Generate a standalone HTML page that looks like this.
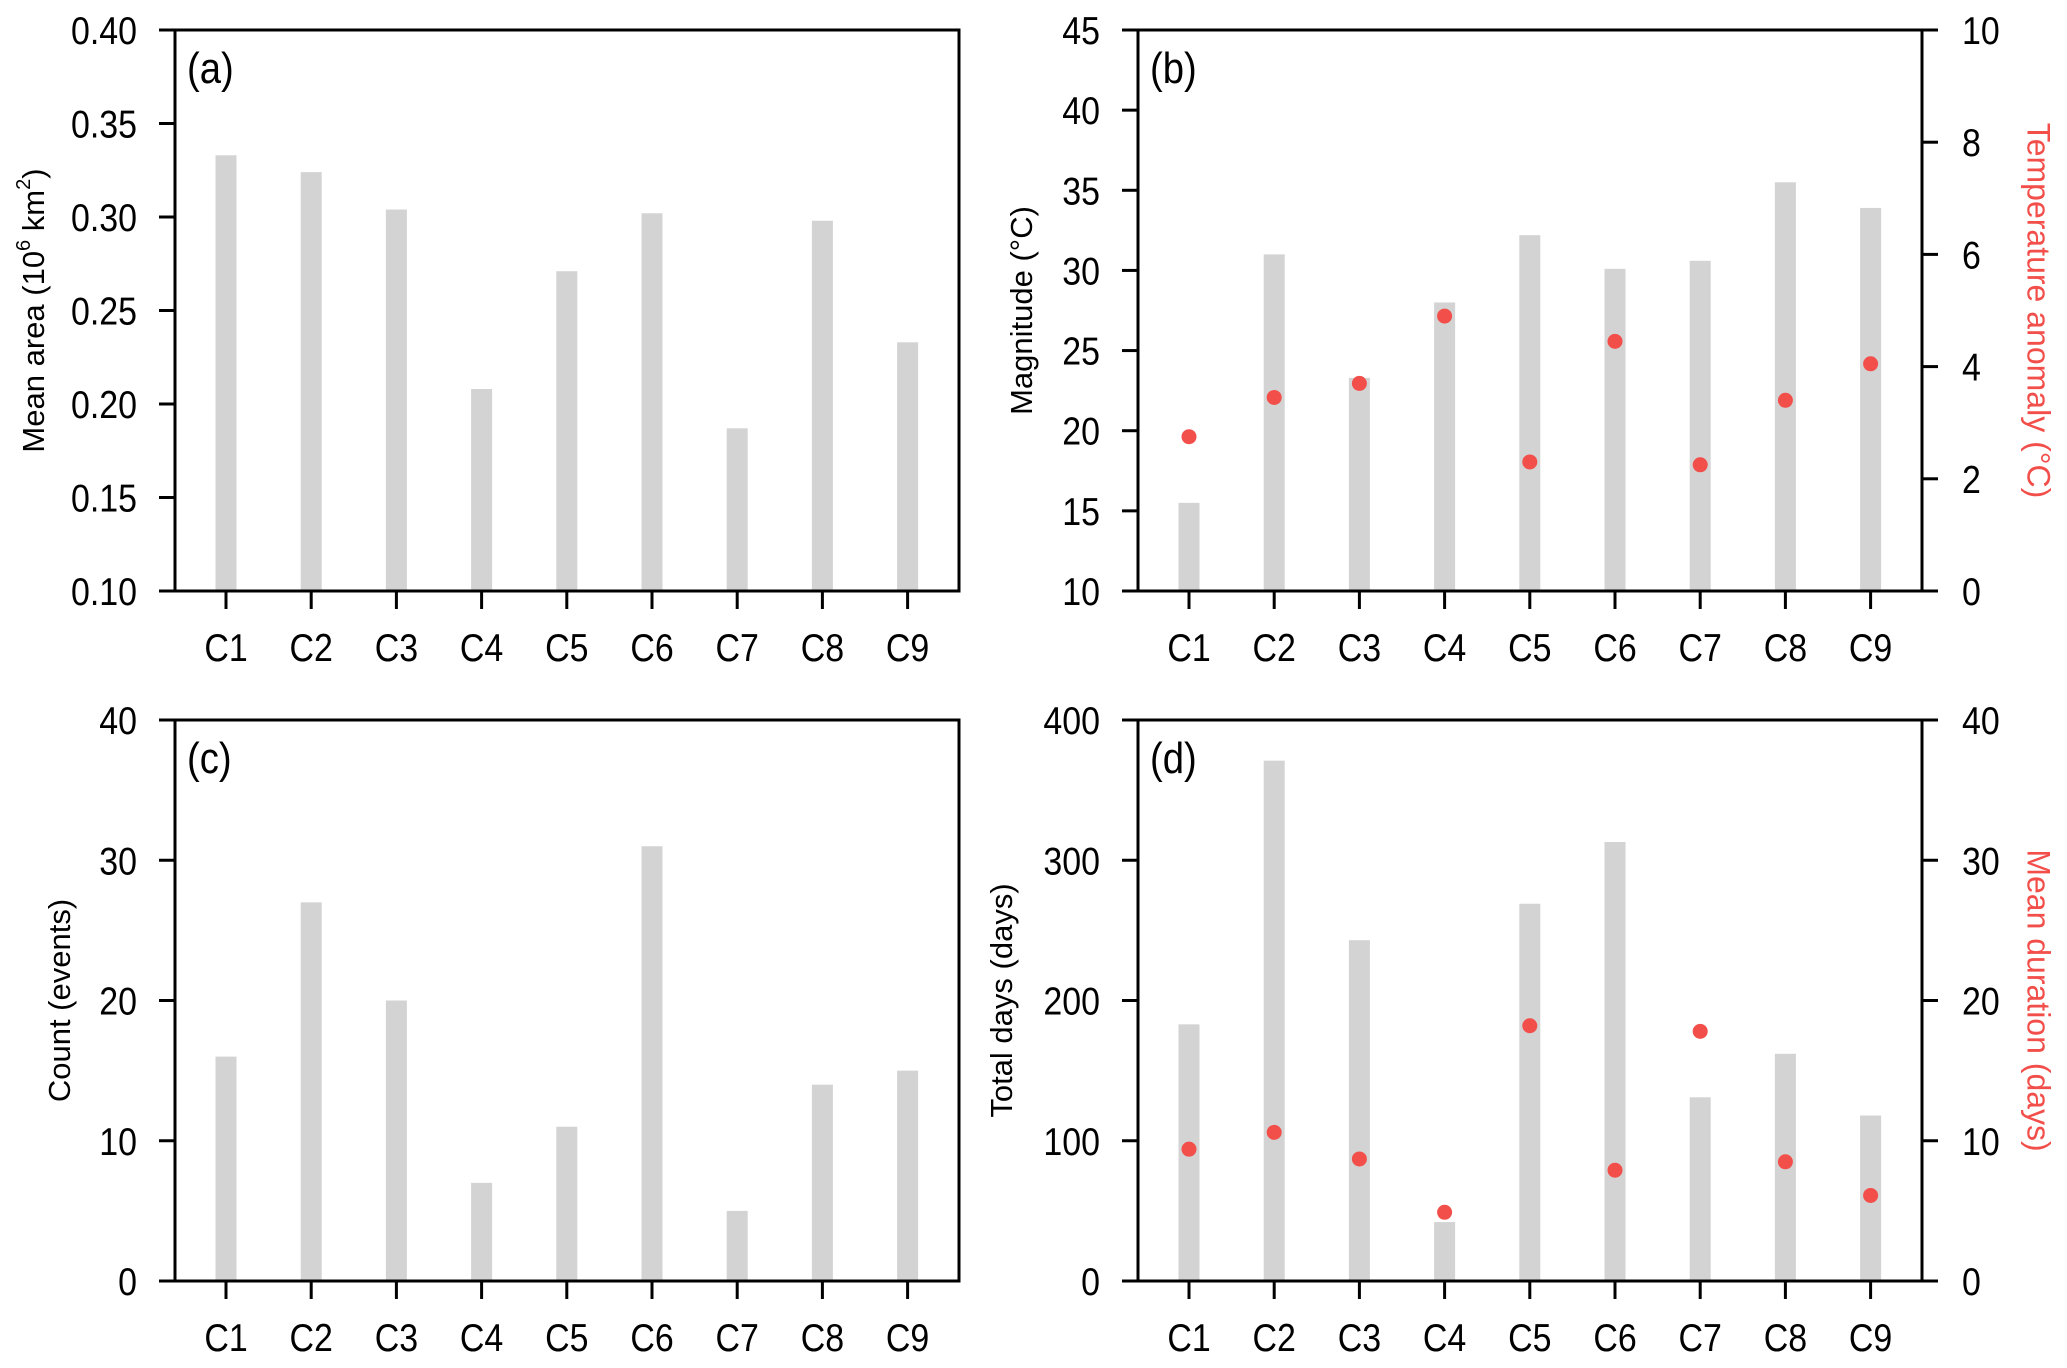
<!DOCTYPE html>
<html><head><meta charset="utf-8"><style>
html,body{margin:0;padding:0;background:#fff}
svg{display:block;font-family:"Liberation Sans",sans-serif}
</style></head><body>
<svg id="fig" width="2067" height="1368" viewBox="0 0 2067 1368"></svg>
<script>
const categories = ["C1","C2","C3","C4","C5","C6","C7","C8","C9"];
const areaValues = [0.333,0.324,0.304,0.208,0.271,0.302,0.187,0.298,0.233];
const magnitudeValues = [15.5,31,23.3,28,32.2,30.1,30.6,35.5,33.9];
const anomalyValues = [2.75,3.45,3.7,4.9,2.3,4.45,2.25,3.4,4.05];
const countValues = [16,27,20,7,11,31,5,14,15];
const totalDaysValues = [183,371,243,42,269,313,131,162,118];
const durationValues = [9.4,10.6,8.7,4.9,18.2,7.9,17.8,8.5,6.1];
const ticksA = ["0.10","0.15","0.20","0.25","0.30","0.35","0.40"];
const ticksB = ["10","15","20","25","30","35","40","45"];
const ticksBR = ["0","2","4","6","8","10"];
const ticksC = ["0","10","20","30","40"];
const ticksD = ["0","100","200","300","400"];
const ticksDR = ["0","10","20","30","40"];

const NS="http://www.w3.org/2000/svg";
const svg=document.getElementById('fig');
const RED="#f24e4a";
const SX=0.87;
function mk(tag,attrs,parent,text){const e=document.createElementNS(NS,tag);for(const k in attrs)e.setAttribute(k,attrs[k]);if(text!==undefined)e.textContent=text;(parent||svg).appendChild(e);return e;}
function ntext(px,py,anchor,size,str,parent){
  return mk('text',{x:0,y:0,'text-anchor':anchor,'font-size':size,transform:`translate(${px} ${py}) scale(${SX} 1)`},parent,str);
}

function panel(cfg){
  const g=mk('g',{});
  
  
  const L=cfg.x0,R=cfg.x0+784,T=cfg.y0,B=cfg.y0+561;
  const ymin=+cfg.ticks[0],ymax=+cfg.ticks[cfg.ticks.length-1];
  const y=v=>B-(v-ymin)/(ymax-ymin)*(B-T);
  const x=i=>L+51+i*85.2;
  cfg.bars.forEach((v,i)=>{
    const r=mk('rect',{x:x(i)-10.5,y:y(v),width:21,height:B-y(v)-1,fill:'#d3d3d3'},g);
    
    
  });
  const f=mk('rect',{x:L,y:T,width:R-L,height:B-T,fill:'none',stroke:'#000','stroke-width':3},g);
  
  
  cfg.ticks.forEach(t=>{
    const yy=y(+t);
    mk('line',{x1:L-16,x2:L,y1:yy,y2:yy,stroke:'#000','stroke-width':3},g);
    const tx=ntext(L-38,yy+14,'end',39,t,g);
    
    
  });
  categories.forEach((c,i)=>{
    mk('line',{x1:x(i),x2:x(i),y1:B,y2:B+18,stroke:'#000','stroke-width':3},g);
    const tx=ntext(x(i),B+70,'middle',39,c,g);
    
    
  });
  const pl=ntext(L+12,T+53,'start',44,'('+cfg.id+')',g);
  
  
  const tcx=cfg.titleX,tcy=(T+B)/2;
  const tt=mk('text',{x:tcx,y:tcy,'text-anchor':'middle','font-size':31,transform:`rotate(-90 ${tcx} ${tcy})`,'dominant-baseline':'middle'},g);
  
  
  cfg.title(tt);
  if(cfg.right){
    const rmin=+cfg.rticks[0],rmax=+cfg.rticks[cfg.rticks.length-1];
    const yr=v=>B-(v-rmin)/(rmax-rmin)*(B-T);
    cfg.rticks.forEach(t=>{
      const yy=yr(+t);
      mk('line',{x1:R,x2:R+16,y1:yy,y2:yy,stroke:'#000','stroke-width':3},g);
      const tx=ntext(R+40,yy+14,'start',39,t,g);
      
      
    });
    cfg.right.forEach((v,i)=>{
      const c=mk('circle',{cx:x(i),cy:yr(v),r:7.5,fill:RED},g);
      
      
    });
    const rx=2036;
    const rt=mk('text',{x:rx,y:tcy,'text-anchor':'middle','font-size':32,fill:RED,transform:`rotate(90 ${rx} ${tcy})`,'dominant-baseline':'middle'},g,cfg.rtitle);
    
    
  }
}
function sup(t,s){const e=document.createElementNS(NS,'tspan');e.setAttribute('baseline-shift','super');e.setAttribute('font-size','20');e.textContent=s;t.appendChild(e);}
function txt(t,s){const e=document.createElementNS(NS,'tspan');e.textContent=s;t.appendChild(e);}

panel({id:'a',x0:175,y0:30,ticks:ticksA,bars:areaValues,titleX:36,
  title:t=>{txt(t,'Mean area (10');sup(t,'6');txt(t,' km');sup(t,'2');txt(t,')');}});
panel({id:'b',x0:1138,y0:30,ticks:ticksB,bars:magnitudeValues,titleX:1024,
  title:t=>txt(t,'Magnitude (°C)'),right:anomalyValues,rticks:ticksBR,rtitle:'Temperature anomaly (°C)'});
panel({id:'c',x0:175,y0:720,ticks:ticksC,bars:countValues,titleX:62,
  title:t=>txt(t,'Count (events)')});
panel({id:'d',x0:1138,y0:720,ticks:ticksD,bars:totalDaysValues,titleX:1004,
  title:t=>txt(t,'Total days (days)'),right:durationValues,rticks:ticksDR,rtitle:'Mean duration (days)'});
</script>
</body></html>
